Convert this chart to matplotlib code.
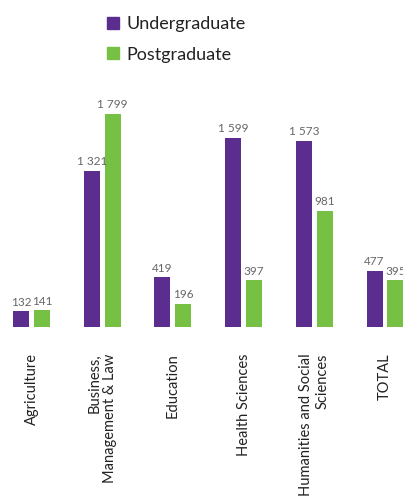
import numpy as np
import matplotlib.pyplot as plt
from matplotlib.patches import Patch

plt.rcParams['font.family'] = ['Lato', 'DejaVu Sans']

categories = ['Agriculture', 'Business,\nManagement & Law', 'Education',
              'Health Sciences', 'Humanities and Social\nSciences', 'TOTAL']
undergrad = [132, 1321, 419, 1599, 1573, 477]
postgrad = [141, 1799, 196, 397, 981, 395]

purple = '#5b2d8e'
green = '#76c043'

fig = plt.figure(figsize=(4.03, 4.96), dpi=100)
ax = fig.add_axes([0, 0.3407, 1, 0.4577])

x = np.arange(len(categories))
w = 0.226
off = 0.148
b1 = ax.bar(x - off, undergrad, w, color=purple)
b2 = ax.bar(x + off, postgrad, w, color=green)

fmt = lambda v: f"{v:,}".replace(",", " ")
for bars, vals in ((b1, undergrad), (b2, postgrad)):
    for b, v in zip(bars, vals):
        ax.annotate(fmt(v), (b.get_x() + b.get_width() / 2, v),
                    xytext=(0, 2.5), textcoords='offset points',
                    ha='center', va='bottom', fontsize=8.5, color='#666666')

ax.set_xlim(-0.446, 5.255)
ax.set_ylim(0, 1917)
ax.axis('off')

# category labels, rotated, hanging from below the baseline
for xi, lab in zip(x, categories):
    ax.annotate(lab, (xi, 0), xytext=(0, -19), textcoords='offset points',
                rotation=90, ha='center', va='top', multialignment='right',
                fontsize=10.5, color='#222222', annotation_clip=False)

handles = [Patch(color=purple, label='Undergraduate'),
           Patch(color=green, label='Postgraduate')]
fig.legend(handles=handles, loc='upper left', bbox_to_anchor=(0.225, 1.0),
           frameon=False, fontsize=13, handlelength=0.65, handleheight=0.65,
           handletextpad=0.45, labelspacing=0.8, labelcolor='#222222')

fig.savefig('out.png', dpi=100)
